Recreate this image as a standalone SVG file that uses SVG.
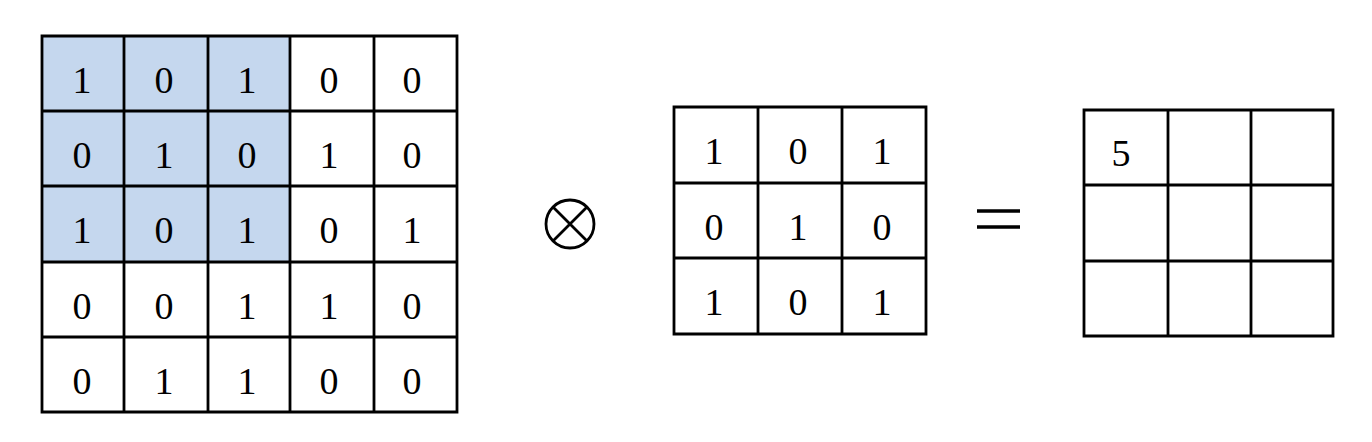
<svg xmlns="http://www.w3.org/2000/svg" width="1372" height="442" viewBox="0 0 1372 442">
<style>
.ln{stroke:#000;stroke-width:2.8;fill:none}
.hl{fill:#C5D7EE;stroke:none}
.t{font-family:"Liberation Serif","Times New Roman",serif;font-size:38px;fill:#000;text-anchor:middle}
</style>
<rect width="1372" height="442" fill="#fff"/>
<g id="input">
<rect class="hl" x="42" y="36" width="248" height="226"/>
<path class="ln" d="M42 36H457V412H42Z M124 36V412 M208 36V412 M290 36V412 M374 36V412 M42 111H457 M42 186H457 M42 262H457 M42 337H457"/>
<g class="t">
<text x="82" y="93">1</text><text x="164" y="93">0</text><text x="247" y="93">1</text><text x="329" y="93">0</text><text x="412" y="93">0</text>
<text x="82" y="168">0</text><text x="164" y="168">1</text><text x="247" y="168">0</text><text x="329" y="168">1</text><text x="412" y="168">0</text>
<text x="82" y="243">1</text><text x="164" y="243">0</text><text x="247" y="243">1</text><text x="329" y="243">0</text><text x="412" y="243">1</text>
<text x="82" y="319">0</text><text x="164" y="319">0</text><text x="247" y="319">1</text><text x="329" y="319">1</text><text x="412" y="319">0</text>
<text x="82" y="394">0</text><text x="164" y="394">1</text><text x="247" y="394">1</text><text x="329" y="394">0</text><text x="412" y="394">0</text>
</g>
</g>
<g id="otimes">
<circle class="ln" cx="570" cy="224" r="24"/>
<path class="ln" d="M553 207L587 241M587 207L553 241"/>
</g>
<g id="kernel">
<path class="ln" d="M674 107H926V334H674Z M758 107V334 M842 107V334 M674 183H926 M674 258H926"/>
<g class="t">
<text x="714" y="164">1</text><text x="798" y="164">0</text><text x="882" y="164">1</text>
<text x="714" y="240">0</text><text x="798" y="240">1</text><text x="882" y="240">0</text>
<text x="714" y="315">1</text><text x="798" y="315">0</text><text x="882" y="315">1</text>
</g>
</g>
<g id="equals">
<path d="M977 211H1020M977 227H1020" stroke="#000" stroke-width="3.5"/>
</g>
<g id="output">
<path class="ln" d="M1084 110H1333V336H1084Z M1168 110V336 M1251 110V336 M1084 185H1333 M1084 261H1333"/>
<text class="t" x="1121" y="166">5</text>
</g>
</svg>
